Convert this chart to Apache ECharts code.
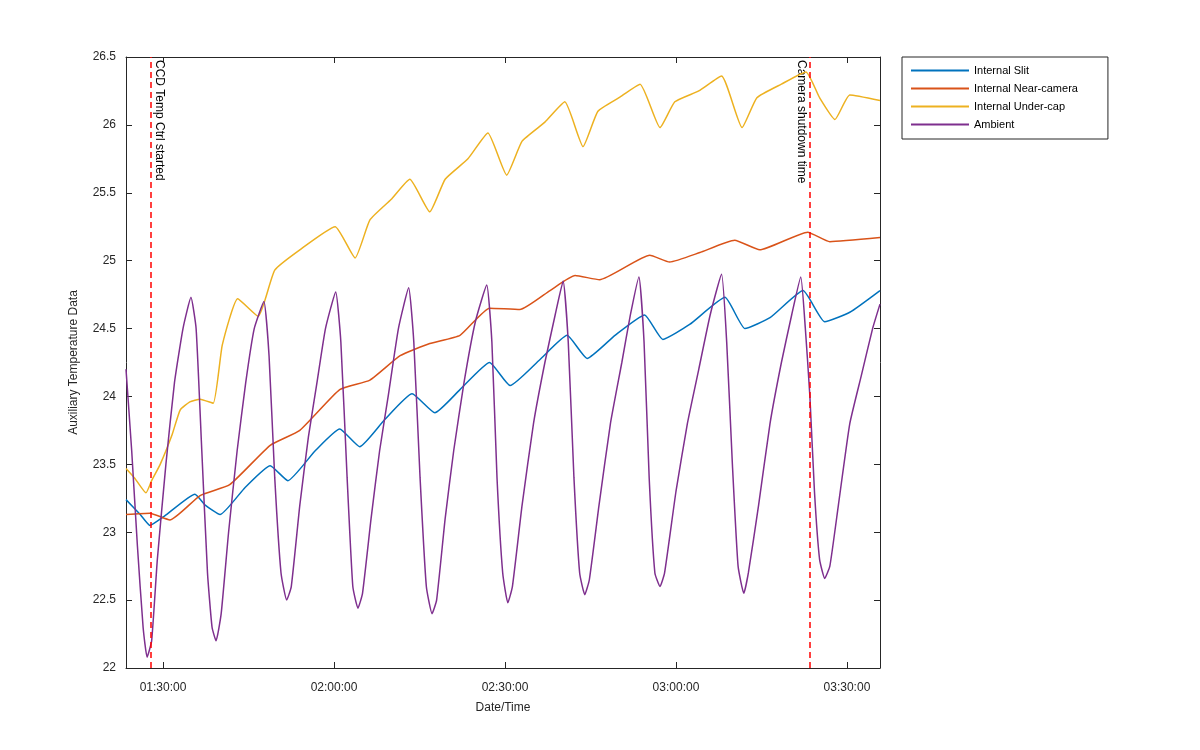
<!DOCTYPE html>
<html>
<head>
<meta charset="utf-8">
<title>Auxiliary Temperature</title>
<script src="https://cdn.jsdelivr.net/npm/echarts@6/dist/echarts.min.js"></script>
<style>html,body{margin:0;background:#fff}</style>
</head>
<body>
<div id="main" style="width:1200px;height:750px;"></div>
<script type="text/javascript">
// time in minutes since 00:00
var slitT = [83.5, 86.0, 87.7, 90.3, 95.6, 97.4, 100.0, 104.4, 108.8, 111.9, 116.7, 121.0, 124.5, 128.9, 133.7, 137.7, 142.1, 147.3, 150.9, 156.1, 160.9, 164.4, 169.3, 174.5, 177.7, 182.4, 188.6, 192.1, 196.5, 202.3, 206.1, 210.5, 215.8];
var slitV = [23.24, 23.13, 23.05, 23.12, 23.28, 23.2, 23.13, 23.33, 23.49, 23.38, 23.6, 23.76, 23.63, 23.83, 24.02, 23.88, 24.05, 24.25, 24.08, 24.27, 24.45, 24.28, 24.45, 24.6, 24.42, 24.53, 24.73, 24.5, 24.58, 24.78, 24.55, 24.62, 24.78];

var nearT = [83.5, 87.7, 91.2, 96.5, 101.7, 108.8, 114.0, 121.0, 126.3, 131.6, 136.8, 142.1, 147.3, 152.6, 157.9, 162.3, 166.6, 175.4, 178.9, 184.2, 190.3, 194.7, 203.1, 207.0, 215.8];
var nearV = [23.13, 23.14, 23.09, 23.27, 23.35, 23.64, 23.75, 24.05, 24.12, 24.3, 24.39, 24.45, 24.65, 24.64, 24.78, 24.89, 24.86, 25.04, 24.99, 25.06, 25.15, 25.08, 25.21, 25.14, 25.17];

var capT = [83.5, 85.0, 87.0, 88.0, 89.5, 91.6, 93.0, 94.7, 96.5, 98.8, 100.4, 103.1, 106.7, 109.6, 114.0, 120.2, 123.7, 126.3, 130.0, 133.3, 136.8, 139.5, 143.5, 147.0, 150.3, 153.0, 157.0, 160.5, 163.7, 166.3, 170.0, 173.7, 177.2, 179.8, 184.0, 188.0, 191.6, 194.2, 198.5, 202.8, 205.2, 207.9, 210.5, 215.8];
var capV = [23.47, 23.4, 23.29, 23.38, 23.5, 23.72, 23.9, 23.96, 23.98, 23.95, 24.38, 24.72, 24.59, 24.93, 25.08, 25.25, 25.02, 25.3, 25.45, 25.6, 25.36, 25.6, 25.75, 25.94, 25.63, 25.88, 26.02, 26.17, 25.84, 26.1, 26.2, 26.3, 25.98, 26.17, 26.25, 26.36, 25.98, 26.2, 26.3, 26.39, 26.2, 26.04, 26.22, 26.18];

var ambT = [83.5, 84.5, 85.5, 86.5, 87.2, 88.0, 89.0, 90.5, 92.0, 93.5, 94.9, 95.8, 96.8, 97.8, 98.6, 99.3, 100.2, 101.5, 103.0, 104.5, 106.0, 107.7, 108.6, 109.6, 110.7, 111.7, 112.5, 114.0, 115.5, 117.0, 118.5, 120.3, 121.2, 122.3, 123.3, 124.2, 125.0, 126.5, 128.0, 129.5, 131.3, 133.1, 134.0, 135.1, 136.2, 137.2, 138.0, 139.5, 141.0, 142.8, 144.8, 146.8, 147.7, 148.6, 149.6, 150.5, 151.3, 153.0, 155.0, 157.0, 158.8, 160.2, 161.1, 162.1, 163.1, 164.0, 164.8, 166.5, 168.5, 170.5, 172.0, 173.5, 174.4, 175.3, 176.3, 177.2, 178.0, 180.0, 182.0, 184.0, 186.0, 188.0, 188.9, 189.9, 190.9, 191.9, 192.7, 194.5, 196.5, 198.5, 200.3, 201.9, 202.7, 203.5, 204.3, 205.2, 206.1, 207.0, 208.5, 210.5, 212.5, 214.5, 215.8];
var ambV = [24.2, 23.6, 22.9, 22.3, 22.08, 22.2, 22.8, 23.5, 24.1, 24.5, 24.73, 24.5, 23.6, 22.7, 22.3, 22.2, 22.4, 23.0, 23.6, 24.1, 24.5, 24.7, 24.3, 23.4, 22.7, 22.5, 22.6, 23.2, 23.7, 24.1, 24.5, 24.77, 24.4, 23.4, 22.6, 22.44, 22.55, 23.1, 23.6, 24.0, 24.5, 24.8, 24.4, 23.4, 22.6, 22.4, 22.5, 23.1, 23.6, 24.1, 24.55, 24.82, 24.4, 23.4, 22.7, 22.48, 22.6, 23.2, 23.8, 24.25, 24.6, 24.85, 24.4, 23.4, 22.7, 22.54, 22.65, 23.2, 23.8, 24.25, 24.6, 24.88, 24.4, 23.4, 22.7, 22.6, 22.7, 23.3, 23.8, 24.2, 24.6, 24.9, 24.4, 23.5, 22.75, 22.55, 22.7, 23.2, 23.8, 24.25, 24.6, 24.88, 24.5, 24.0, 23.3, 22.8, 22.66, 22.75, 23.2, 23.8, 24.15, 24.5, 24.68];

var xTicks = [90, 120, 150, 180, 210];
var ccdStart = 87.9, camShutdown = 203.5;

function pairs(t, v) {
    var out = [];
    for (var i = 0; i < t.length; i++) out.push([t[i], v[i]]);
    return out;
}
function hms(m) {
    var s = Math.round(m * 60);
    var h = Math.floor(s / 3600), mm = Math.floor(s % 3600 / 60), ss = s % 60;
    return (h < 10 ? '0' : '') + h + ':' + (mm < 10 ? '0' : '') + mm + ':' + (ss < 10 ? '0' : '') + ss;
}

var font = 'Liberation Sans';
var axisLine = {show: true, lineStyle: {color: '#262626', width: 1}};
var myChart = echarts.init(document.getElementById('main'));
myChart.setOption({
    backgroundColor: '#fff',
    animation: false,
    textStyle: {fontFamily: font},
    grid: {left: 126, right: 320, top: 57, bottom: 82},
    legend: {
        orient: 'vertical', left: 902, top: 57,
        padding: [8, 30, 9, 9], itemGap: 7, itemWidth: 58, itemHeight: 2,
        borderColor: '#262626', borderWidth: 1, backgroundColor: '#fff',
        icon: 'rect',
        textStyle: {fontSize: 11, color: '#000', fontFamily: font},
        data: ['Internal Slit', 'Internal Near-camera', 'Internal Under-cap', 'Ambient']
    },
    xAxis: [{
        type: 'value', min: 83.5, max: 215.8, name: 'Date/Time', nameLocation: 'middle', nameGap: 34,
        nameTextStyle: {fontSize: 12, color: '#262626'},
        axisLine: axisLine, splitLine: {show: false},
        axisTick: {inside: true, length: 6, customValues: xTicks, lineStyle: {color: '#262626'}},
        axisLabel: {customValues: xTicks, formatter: hms, fontSize: 12, color: '#262626', margin: 14}
    }, {
        type: 'value', min: 83.5, max: 215.8, position: 'top',
        axisLine: axisLine, splitLine: {show: false},
        axisTick: {inside: true, length: 6, customValues: xTicks, lineStyle: {color: '#262626'}},
        axisLabel: {show: false}
    }],
    yAxis: [{
        type: 'value', min: 22, max: 26.5, interval: 0.5,
        name: 'Auxiliary Temperature Data', nameLocation: 'middle', nameGap: 46, nameRotate: 90,
        nameTextStyle: {fontSize: 12, color: '#262626'},
        axisLine: axisLine, splitLine: {show: false},
        axisTick: {inside: true, length: 6, lineStyle: {color: '#262626'}},
        axisLabel: {fontSize: 12, color: '#262626', margin: 10}
    }, {
        type: 'value', min: 22, max: 26.5, interval: 0.5, position: 'right',
        axisLine: axisLine, splitLine: {show: false},
        axisTick: {inside: true, length: 6, lineStyle: {color: '#262626'}},
        axisLabel: {show: false}
    }],
    series: [
        {name: 'Internal Slit', type: 'line', showSymbol: false, smooth: 0.15, color: '#0072BD', lineStyle: {width: 1.5}, data: pairs(slitT, slitV)},
        {name: 'Internal Near-camera', type: 'line', showSymbol: false, smooth: 0.15, color: '#D95319', lineStyle: {width: 1.5}, data: pairs(nearT, nearV)},
        {name: 'Internal Under-cap', type: 'line', showSymbol: false, smooth: 0.15, color: '#EDB120', lineStyle: {width: 1.5}, data: pairs(capT, capV)},
        {name: 'Ambient', type: 'line', showSymbol: false, smooth: 0.15, color: '#7E2F8E', lineStyle: {width: 1.5}, data: pairs(ambT, ambV),
         markLine: {
            silent: true, symbol: 'none',
            lineStyle: {color: '#FF0000', type: [6, 4], width: 1.5},
            label: {show: false},
            data: [{xAxis: ccdStart}, {xAxis: camShutdown}]
         }}
    ],
    graphic: [
        {type: 'text', x: 153, y: 60, rotation: -Math.PI / 2,
         style: {text: 'CCD Temp Ctrl started', font: '12px "Liberation Sans"', fill: '#000', textAlign: 'left', textVerticalAlign: 'bottom'}},
        {type: 'text', x: 807, y: 60, rotation: -Math.PI / 2,
         style: {text: 'Camera shutdown time', font: '12px "Liberation Sans"', fill: '#000', textAlign: 'left', textVerticalAlign: 'top'}}
    ]
});
</script>
</body>
</html>
